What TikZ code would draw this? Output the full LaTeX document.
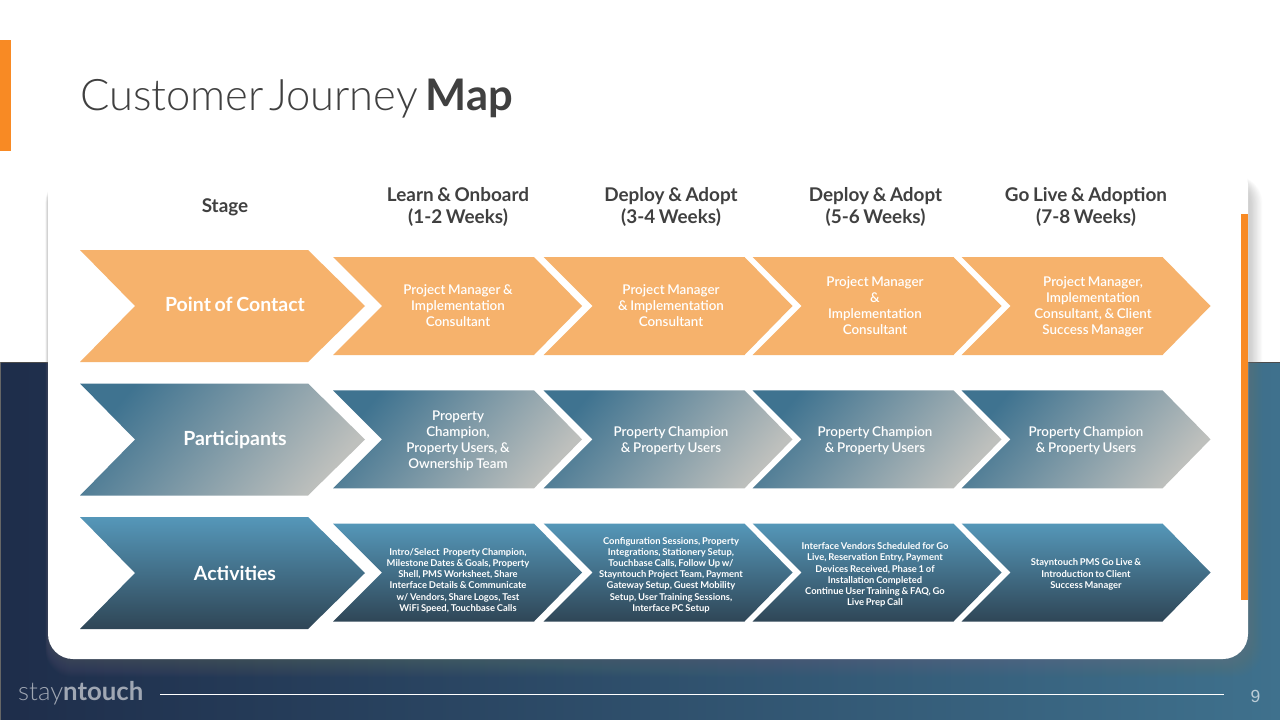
\documentclass[tikz,border=0pt]{standalone}
\usepackage{fontspec}
\setmainfont{Lato}[WordSpace=0.78]
\newfontfamily\latolight{Lato Light}[WordSpace=0.45]
\newfontfamily\latosemi{Lato Semibold}[WordSpace=0.78]
\newfontfamily\armo{Liberation Sans}
\usetikzlibrary{calc}
\definecolor{accent}{HTML}{F88A24}
\definecolor{peach}{HTML}{F6B26C}
\definecolor{inkdark}{HTML}{404040}
\definecolor{navy}{HTML}{1E2D4A}
\definecolor{teal}{HTML}{3F718D}
\definecolor{pteal}{HTML}{3F7390}
\definecolor{pgrey}{HTML}{BEC0BD}
\definecolor{atop}{HTML}{5597B9}
\definecolor{abot}{HTML}{2F4656}
\tikzset{
  x=1pt,y=-1pt,
  headtext/.style={text=inkdark,align=center,font=\fontsize{18.9}{22}\selectfont\bfseries,inner sep=0pt},
  rowtext/.style={text=white,align=center,font=\fontsize{19.5}{23}\selectfont\bfseries,inner sep=0pt},
  celltext/.style={text=white,align=center,font=\fontsize{13.4}{16}\selectfont\latosemi,inner sep=0pt},
  smalltext/.style={text=white,align=center,font=\fontsize{9.4}{11.2}\selectfont\bfseries,inner sep=0pt},
  fillcontact/.style={fill=peach},
  fillpart/.style={shade,top color=pteal,bottom color=pgrey,shading angle=50,middle color=pteal!50!pgrey},
  fillact/.style={shade,top color=atop,bottom color=abot},
}
% small chevron: left x, top y, style
\newcommand{\cellchev}[3]{%
  \path[#3] (#1,#2) -- ++(201,0) -- ++(48,49) -- ++(-48,49) -- ++(-201,0) -- ++(49,-49) -- cycle;}
% big chevron
\newcommand{\bigchev}[3]{%
  \path[#3] (80,#1) -- (308,#1) -- (365,#2) -- (308,#1+112) -- (80,#1+112) -- (135,#2) -- cycle;}
\begin{document}
\begin{tikzpicture}
\useasboundingbox (0,0) rectangle (1280,720);
\fill[white] (0,0) rectangle (1280,362);
\shade[left color=navy,right color=teal] (0,362) rectangle (1280,720);
\draw[line width=0.8pt,black!70] (0,362) -- (1280,362);
\draw[line width=0.8pt,black!60] (0.4,362) -- (0.4,720);
\fill[accent] (0,40) rectangle (10.5,151);
% card shadow
\foreach \g in {1,...,18}{
  \fill[black!50!white,opacity=0.024,rounded corners=27pt]
    (48-\g*0.15,176) rectangle (1248+\g*0.8,659+\g*1.0);
}
\fill[white,rounded corners=25pt] (48,160) rectangle (1248,659);
\fill[accent] (1240.5,214) rectangle (1248,600);
% title
\node[anchor=base west,inner sep=0pt,text=inkdark,font=\fontsize{43.5}{50}\selectfont] (title) at (80,110)
  {{\latolight Customer Journey}\hspace{8pt}\textbf{Map}};
% headers
\node[headtext] (hstage) at (225,207) {Stage};
\node[headtext] (h1) at (458,207) {Learn \& Onboard\\(1-2 Weeks)};
\node[headtext] (h2) at (671,207) {Deploy \& Adopt\\(3-4 Weeks)};
\node[headtext] (h3) at (875.5,207) {Deploy \& Adopt\\(5-6 Weeks)};
\node[headtext] (h4) at (1086,207) {Go Live \& Adoption\\(7-8 Weeks)};
% row 1
\bigchev{250}{306}{fillcontact}
\cellchev{333}{257}{fillcontact}
\cellchev{543.5}{257}{fillcontact}
\cellchev{752.5}{257}{fillcontact}
\cellchev{961.5}{257}{fillcontact}
\node[rowtext] (rc) at (235,304.5) {Point of Contact};
\node[celltext] (c1) at (458,305.5) {Project Manager \&\\Implementation\\Consultant};
\node[celltext] (c2) at (671,305.5) {Project Manager\\\& Implementation\\Consultant};
\node[celltext] (c3) at (875,305.5) {Project Manager\\\&\\Implementation\\Consultant};
\node[celltext] (c4) at (1093,306.5) {Project Manager,\\Implementation\\Consultant, \& Client\\Success Manager};
% row 2
\bigchev{383.5}{439.5}{fillpart}
\cellchev{333}{390.3}{fillpart}
\cellchev{543.5}{390.3}{fillpart}
\cellchev{752.5}{390.3}{fillpart}
\cellchev{961.5}{390.3}{fillpart}
\node[rowtext] (rp) at (235,440) {Participants};
\node[celltext] (p1) at (458,441) {Property\\Champion,\\Property Users, \&\\Ownership Team};
\node[celltext] (p2) at (671,441) {Property Champion\\\& Property Users};
\node[celltext] (p3) at (875,441) {Property Champion\\\& Property Users};
\node[celltext] (p4) at (1086,441) {Property Champion\\\& Property Users};
% row 3
\bigchev{517}{573}{fillact}
\cellchev{333}{523.5}{fillact}
\cellchev{543.5}{523.5}{fillact}
\cellchev{752.5}{523.5}{fillact}
\cellchev{961.5}{523.5}{fillact}
\node[rowtext] (ra) at (235,573) {Activities};
\node[smalltext] (a1) at (458,580.5) {Intro/Select\ \ Property Champion,\\Milestone Dates \& Goals, Property\\Shell, PMS Worksheet, Share\\Interface Details \& Communicate\\w/ Vendors, Share Logos, Test\\WiFi Speed, Touchbase Calls};
\node[smalltext] (a2) at (671,575) {Configuration Sessions, Property\\Integrations, Stationery Setup,\\Touchbase Calls, Follow Up w/\\Stayntouch Project Team, Payment\\Gateway Setup, Guest Mobility\\Setup, User Training Sessions,\\Interface PC Setup};
\node[smalltext] (a3) at (875,575) {Interface Vendors Scheduled for Go\\Live, Reservation Entry, Payment\\Devices Received, Phase 1 of\\Installation Completed\\Continue User Training \& FAQ, Go\\Live Prep Call};
\node[smalltext] (a4) at (1086,574.5) {Stayntouch PMS Go Live \&\\Introduction to Client\\Success Manager};
% footer
\node[anchor=base west,inner sep=0pt,text=white!58!navy,font=\fontsize{25.8}{28}\selectfont] (logo) at (18,700)
  {{\latolight stay}\textbf{ntouch}};
\coordinate (fa) at (160,694.5);
\coordinate (fb) at (1223.5,694.5);
\draw[white,line width=0.9pt] (fa) -- (fb);
\node[anchor=base,inner sep=0pt,text=white!65!teal,font=\fontsize{17.5}{18}\selectfont\armo] (pg) at (1255.5,702) {9};
\end{tikzpicture}
\end{document}
